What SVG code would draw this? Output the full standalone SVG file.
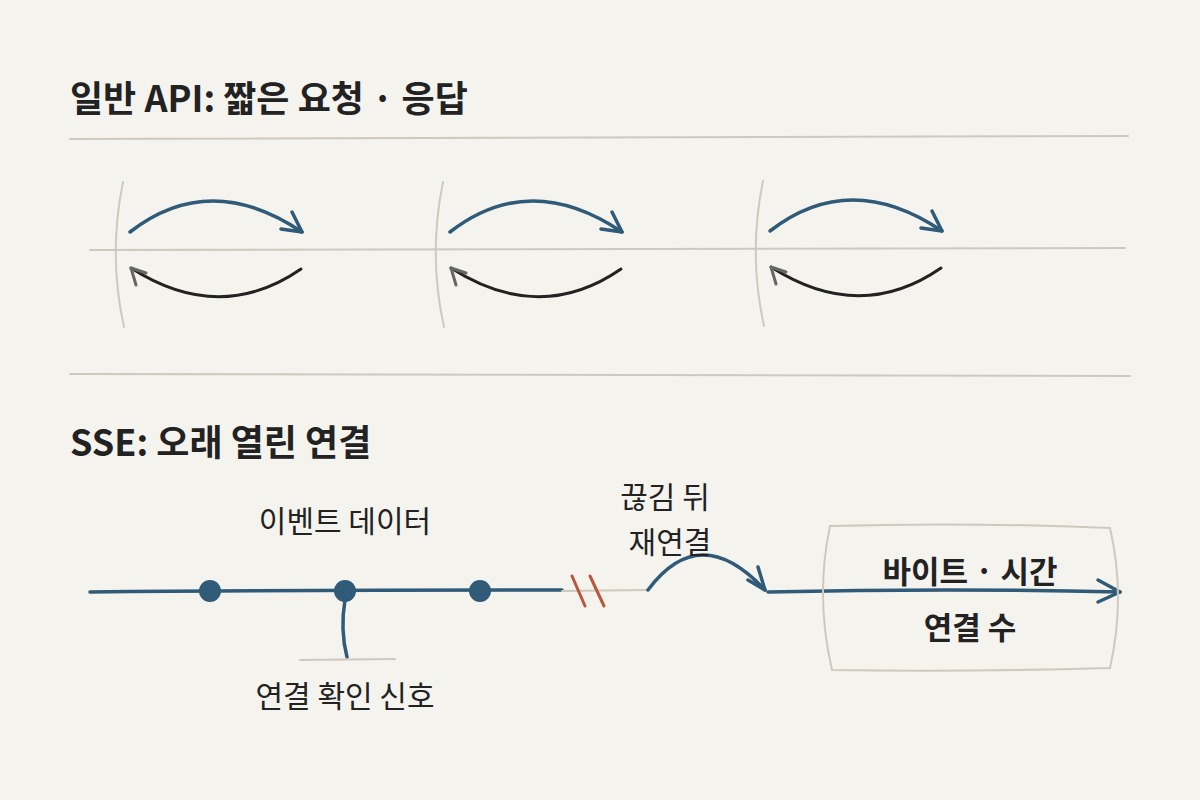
<svg xmlns="http://www.w3.org/2000/svg" width="1200" height="800" viewBox="0 0 1200 800">
<defs>
<style>
text{font-family:"Noto Sans CJK KR","Noto Sans",sans-serif;fill:#222}
.t{font-size:36px;font-weight:700}
.l{font-size:30px}
.b{font-size:31px;font-weight:700}
.g{fill:none;stroke:#cfc8bd;stroke-width:2;stroke-linecap:round}
.blue{fill:none;stroke:#2f5a78;stroke-width:3.5;stroke-linecap:round;stroke-linejoin:round}
.blk{fill:none;stroke:#222;stroke-width:3;stroke-linecap:round;stroke-linejoin:round}
.gh{fill:none;stroke:#666;stroke-width:3;stroke-linecap:round;stroke-linejoin:round}
</style>
<g id="pair">
<path class="g" d="M123,182 Q108,255 124,327"/>
<path class="blue" d="M130,232 Q210,170 302,232"/>
<path class="blue" d="M292,212 L302,232 L281,229"/>
<path class="blk" d="M301,269 Q220,325 131,268"/>
<path class="gh" d="M146,273 L131,268 L136,285"/>
</g>
</defs>
<rect width="1200" height="800" fill="#f5f3ee"/>
<g id="top">
<text class="t" x="70" y="112">일반 API: 짧은 요청 · 응답</text>
<path class="g" d="M70,139 L1128,136"/>
<path class="g" d="M90,250 L1125,248"/>
<use href="#pair"/>
<use href="#pair" x="320"/>
<use href="#pair" x="640" y="-1"/>
<path class="g" d="M70,374 L1130,376"/>
</g>
<g id="sse">
<text class="t" x="70" y="456">SSE: 오래 열린 연결</text>
</g>
<g id="connectors">
<path class="blue" d="M90,592 Q300,590 562,590"/>
<path class="blue" d="M345,600 Q340,630 347,657"/>
<path class="g" d="M300,660 L395,659"/>
<path class="g" d="M562,591 L648,590"/>
<path d="M572,576 L585,606 M590,576 L604,606" stroke="#b8573a" stroke-width="3" fill="none" stroke-linecap="round"/>
<path class="blue" d="M648,590 Q700,520 765,590"/>
<path class="blue" d="M758,567 L765,590 L748,580"/>
<path class="blue" d="M768,592 Q950,588 1120,592"/>
<path class="blue" d="M1098,580 L1120,592 L1098,602"/>
</g>
<g id="events">
<circle cx="210" cy="591" r="11" fill="#2f5a78"/>
<circle cx="345" cy="591" r="11" fill="#2f5a78"/>
<circle cx="480" cy="591" r="11" fill="#2f5a78"/>
<text class="l" x="345" y="532" text-anchor="middle">이벤트 데이터</text>
<text class="l" x="345" y="707" text-anchor="middle">연결 확인 신호</text>
</g>
<g id="reconnect">
<text class="l" x="665" y="508" text-anchor="middle">끊김 뒤</text>
<text class="l" x="670" y="553" text-anchor="middle">재연결</text>
</g>
<g id="metrics">
<path class="g" d="M830,526 Q970,522 1110,528 Q1126,597 1110,668 Q970,672 832,670 Q815,597 830,526 Z"/>
<text class="b" x="970" y="583" text-anchor="middle">바이트 · 시간</text>
<text class="b" x="970" y="639" text-anchor="middle">연결 수</text>
</g>
</svg>
